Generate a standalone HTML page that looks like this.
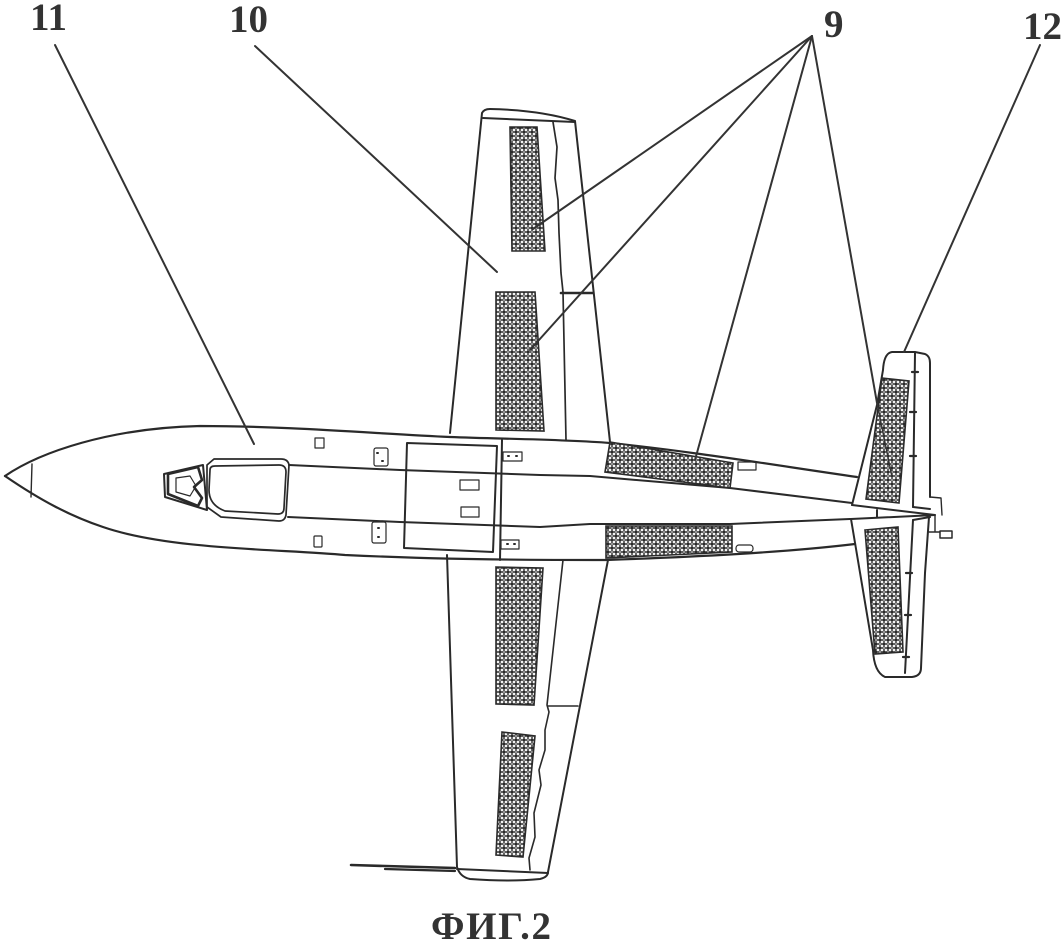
<!DOCTYPE html>
<html><head><meta charset="utf-8"><style>
html,body{margin:0;padding:0;background:#fff}
svg{display:block}
text{font-family:"Liberation Serif","DejaVu Serif",serif;font-weight:bold;fill:#333}
</style></head><body>
<svg width="1064" height="943" viewBox="0 0 1064 943" xmlns="http://www.w3.org/2000/svg">
<defs>
<pattern id="h" width="8" height="8" patternUnits="userSpaceOnUse">
<rect width="8" height="8" fill="#2b2b2b"/>
<circle cx="2" cy="2" r="1.4" fill="#f4f4f4"/><circle cx="6" cy="2" r="1.4" fill="#f4f4f4"/>
<circle cx="2" cy="6" r="1.4" fill="#f4f4f4"/><circle cx="6" cy="6" r="1.4" fill="#f4f4f4"/>
<circle cx="4" cy="0" r="0.9" fill="#ddd"/><circle cx="4" cy="8" r="0.9" fill="#ddd"/>
<circle cx="0" cy="4" r="0.9" fill="#ddd"/><circle cx="8" cy="4" r="0.9" fill="#ddd"/>
</pattern>
</defs>
<rect width="1064" height="943" fill="#fff"/>
<g fill="none" stroke="#2a2a2a" stroke-width="2" stroke-linejoin="round" stroke-linecap="round">
<!-- top wing -->
<path d="M450 433L482 113Q484 109 490 109Q540 110 575 121L610 442"/>
<path d="M483 118L575 122"/>
<path d="M553 122L557 147L555 178L558 200L559 233L561 273L563 292L566 440" stroke-width="1.7"/>
<path d="M561 293H593" stroke-width="2.6"/>
<!-- bottom wing -->
<path d="M447 555L457 867Q460 877 470 879Q510 882 540 879Q548 877 548 872L608 560"/>
<path d="M457 869L548 873"/>
<path d="M563 560L547 705L549 712L545 730L545 750L539 770L541 785L534 813L535 837L529 858L530 870" stroke-width="1.6"/>
<path d="M548 706H578" stroke-width="1.6"/>
<path d="M351 865L455 868" stroke-width="2.6"/><path d="M385 869L455 871" stroke-width="2.2"/>
<!-- fuselage -->
<path d="M5 476C40 452 110 428 200 426C290 426 380 434 450 437C500 439 560 439 610 443C690 451 780 466 857 477" stroke-width="2.2"/>
<path d="M5 476C40 500 70 516 103 527C170 550 280 549 345 555C410 558 470 560 606 560C690 557 780 553 855 544" stroke-width="2.2"/>
<path d="M32 464L31 497" stroke-width="1.4"/>
<path d="M289 465L400 470L540 475L590 476L730 488L852 503"/>
<path d="M288 517L400 522L540 527L590 524L730 524L850 519"/>
<!-- canopy -->
<path d="M207 465L214 459H281Q288 459 289 465L286 515Q285 521 279 521L221 517L207 507Z" stroke-width="1.7"/>
<path d="M210 470Q210 466 215 466L279 465Q286 465 286 472L284 508Q284 514 278 514L225 511Q209 505 209 490Z" stroke-width="1.7"/>
<path d="M164 474L203 465L207 510L165 497Z" stroke-width="2"/>
<path d="M168 474L198 467L202 480L194 487L202 498L198 506L168 494Z" stroke-width="2.6"/>
<path d="M176 478L190 476L196 486L190 496L176 492Z" stroke-width="1.2"/>
<!-- panel -->
<path d="M407 443L497 446L493 552L404 548Z"/>
<path d="M502 440L500 560"/>
<!-- small rects -->
<rect x="315" y="438" width="9" height="10" stroke-width="1.2"/>
<rect x="374" y="448" width="14" height="18" rx="2" stroke-width="1.2"/>
<rect x="372" y="522" width="14" height="21" rx="2" stroke-width="1.2"/>
<rect x="314" y="536" width="8" height="11" rx="1" stroke-width="1.2"/>
<rect x="460" y="480" width="19" height="10" stroke-width="1.2"/>
<rect x="461" y="507" width="18" height="10" stroke-width="1.2"/>
<rect x="503" y="452" width="19" height="9" stroke-width="1.2"/>
<rect x="501" y="540" width="18" height="9" stroke-width="1.2"/>
<rect x="738" y="462" width="18" height="8" stroke-width="1.2"/>
<rect x="736" y="545" width="17" height="7" rx="3" stroke-width="1.2"/>
<path d="M377 453h1M382 461h1M378 528h1M378 537h1M508 456h1M516 456h1M507 544h1M514 544h1" stroke-width="2"/>
<!-- tail -->
<path d="M852 505L877 405L883 370Q884 353 892 352H915L925 354Q930 356 930 363V497"/>
<path d="M915 353L913 507"/>
<path d="M851 519L873 650Q874 672 885 677H912Q921 676 921 668L925 573L929 517"/>
<path d="M913 520L905 673"/>
<path d="M852 505L935 515M851 519L935 515M877 510V517M913 507L930 509M913 520L930 517"/>
<path d="M930 497L941 498L942 515M935 515V532M929 532H940" stroke-width="1.4"/>
<rect x="940" y="531" width="12" height="7" stroke-width="1.5"/>
<path d="M912 372h6M910 412h6M910 456h6M906 573h6M905 615h6M903 657h6" stroke-width="2.2"/>
</g>
<g fill="url(#h)" stroke="#2b2b2b" stroke-width="1.6">
<polygon points="510,127 537,127 545,251 512,251"/>
<polygon points="496,292 535,292 544,431 496,430"/>
<polygon points="496,567 543,568 534,705 496,704"/>
<polygon points="502,732 535,736 523,857 496,855"/>
<polygon points="605,472 610,442 733,463 730,488"/>
<polygon points="606,526 732,526 732,552 606,558"/>
<polygon points="882,378 909,381 899,503 866,499"/>
<polygon points="865,530 898,527 903,652 875,654"/>
</g>
<g fill="none" stroke="#333" stroke-width="2" stroke-linecap="round">
<path d="M55 45L254 444"/>
<path d="M255 46L497 272"/>
<path d="M812 36L533 229"/>
<path d="M812 36L530 350"/>
<path d="M812 36L695 460"/>
<path d="M812 36L877 403"/>
<path d="M877 403L892 477" stroke-width="1.4"/>
<path d="M1040 45L904 352"/>
</g>
<text x="30" y="30" font-size="39" textLength="37">11</text>
<text x="229" y="32" font-size="39" textLength="39">10</text>
<text x="824" y="37" font-size="39">9</text>
<text x="1023" y="39" font-size="39" textLength="39">12</text>
<text x="431" y="939" font-size="39" textLength="120">ФИГ.2</text>
</svg>
</body></html>
